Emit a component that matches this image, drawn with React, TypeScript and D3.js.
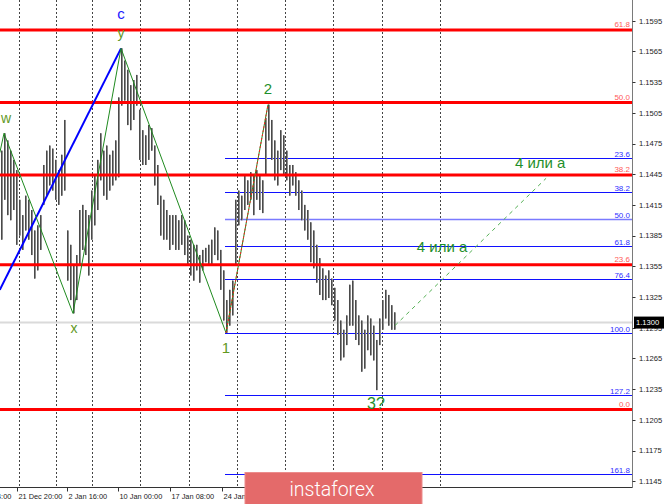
import React from "react";
import * as d3 from "d3";

// bar highs / lows (H4 bars, oldest first)
const HIGHS = [
  1.1468, 1.1485, 1.1478, 1.1468, 1.1459, 1.1449, 1.142, 1.1405, 1.1424, 1.142,
  1.141, 1.139, 1.1395, 1.1405, 1.1454, 1.1468, 1.1473, 1.147, 1.1459, 1.1449,
  1.1464, 1.1498, 1.139, 1.1376, 1.1356, 1.1366, 1.141, 1.1415, 1.141, 1.1405,
  1.1429, 1.1444, 1.1459, 1.1485, 1.1468, 1.1473, 1.1464, 1.1468, 1.1478, 1.152,
  1.1568, 1.1556, 1.1547, 1.1532, 1.1537, 1.1542, 1.1508, 1.1488, 1.1483, 1.1493,
  1.149, 1.1473, 1.1454, 1.1424, 1.142, 1.141, 1.1405, 1.1405, 1.1405, 1.14,
  1.1405, 1.14, 1.1385, 1.1381, 1.1376, 1.1376, 1.1366, 1.1371, 1.1373, 1.1376,
  1.1381, 1.1393, 1.139, 1.1371, 1.1351, 1.1322, 1.1332, 1.1341, 1.142, 1.1429,
  1.1424, 1.1444, 1.1439, 1.1447, 1.1444, 1.1449, 1.1444, 1.1439, 1.15, 1.1513,
  1.1498, 1.1478, 1.1468, 1.1488, 1.1483, 1.1468, 1.1454, 1.1454, 1.1447, 1.1439,
  1.1429, 1.1415, 1.141, 1.1398, 1.139, 1.1376, 1.1363, 1.1353, 1.1346, 1.1351,
  1.1343, 1.1334, 1.1322, 1.1302, 1.1293, 1.1307, 1.1337, 1.1341, 1.1322, 1.1307,
  1.1302, 1.1293, 1.1307, 1.1304, 1.1297, 1.1283, 1.1304, 1.1322, 1.1332, 1.1327,
  1.1317, 1.131,
];
const LOWS = [
  1.1381, 1.142, 1.1405, 1.14, 1.141, 1.1376, 1.1385, 1.1371, 1.139, 1.1381,
  1.1366, 1.1343, 1.1351, 1.1371, 1.1415, 1.1424, 1.1434, 1.1429, 1.142, 1.1415,
  1.1424, 1.1429, 1.1341, 1.1322, 1.1309, 1.1322, 1.1356, 1.1371, 1.1366, 1.1346,
  1.1381, 1.1395, 1.141, 1.1439, 1.1424, 1.142, 1.1429, 1.1434, 1.1439, 1.1442,
  1.1512, 1.1517, 1.1493, 1.1488, 1.1498, 1.1512, 1.1459, 1.1454, 1.1454, 1.1459,
  1.1468, 1.1434, 1.1415, 1.1385, 1.1381, 1.1381, 1.1371, 1.1376, 1.1371, 1.1371,
  1.1376, 1.1366, 1.1356, 1.1346, 1.1341, 1.1351, 1.1339, 1.1351, 1.1359, 1.1356,
  1.1356, 1.1366, 1.1361, 1.1332, 1.1302, 1.129, 1.1297, 1.1307, 1.1356, 1.1395,
  1.14, 1.141, 1.1415, 1.142, 1.1405, 1.142, 1.141, 1.1407, 1.1444, 1.1478,
  1.1459, 1.1439, 1.1434, 1.1449, 1.1444, 1.1439, 1.1424, 1.1434, 1.1424, 1.141,
  1.14, 1.139, 1.1381, 1.1359, 1.1353, 1.1339, 1.1327, 1.1322, 1.1322, 1.1324,
  1.1317, 1.1302, 1.1288, 1.1263, 1.1266, 1.1278, 1.1297, 1.1297, 1.1283, 1.1278,
  1.1252, 1.1255, 1.1273, 1.1268, 1.1263, 1.1234, 1.1278, 1.1293, 1.1304, 1.1297,
  1.1293, 1.1293,
];

const LAST_PRICE = 1.13;

const PRICE_TICKS = [
  1.1595, 1.1565, 1.1535, 1.1505, 1.1475, 1.1445, 1.1415, 1.1385, 1.1355, 1.1325,
  1.1295, 1.1265, 1.1235, 1.1205, 1.1175, 1.1145,
];

// time axis (bar index positions)
const TIME_TICKS = [-11.7, 5.3, 22, 39, 56.3, 73.7];
const TIME_LABELS = ["19 Dec 04:00", "21 Dec 20:00", "2 Jan 16:00", "10 Jan 00:00", "17 Jan 08:00", "24 Jan 16:00"];
const GRID_BARS = [5.9, 18.3, 30.2, 46.2, 62.6, 78.6, 94.7, 110.8, 126.9, 146.2];

// big fibo (red): 0 -> 100 range
const RED_FIB_FROM = 1.1215;
const RED_FIB_TO = 1.1815;
const RED_LEVELS = [0, 23.6, 38.2, 50, 61.8];

// small fibo (blue): wave 2 high -> wave 1 low
const BLUE_FIB_FROM = 1.1513;
const BLUE_FIB_TO = 1.129;
const BLUE_FIB_START = 75;
const BLUE_LEVELS = [23.6, 38.2, 50, 61.8, 76.4, 100, 127.2, 161.8];

// wave zigzag
const ZIGZAG = [
  { i: -0.4, p: 1.1466 },
  { i: 1, p: 1.1485 },
  { i: 24, p: 1.1309 },
  { i: 40, p: 1.1568 },
  { i: 75, p: 1.129 },
  { i: 89, p: 1.1513 },
];
const BLUE_TREND = [
  { i: -0.4, p: 1.1332 },
  { i: 40, p: 1.1568 },
];
const FORECAST = [
  { i: 131.3, p: 1.1297 },
  { i: 181.7, p: 1.1441 },
];

const W = 665;
const H = 504;
const PLOT_R = 632.5;
const PLOT_B = 487.5;

const x = d3.scaleLinear().domain([0, 131]).range([1, 394]);
const y = d3.scaleLinear().domain([1.1595, 1.1145]).range([20.7, 481.2]);

const SMALL_GREEN = "#62991f";
const BIG_GREEN = "#1f8f2c";
const axisFont = "'Liberation Sans', Arial, sans-serif";

export default function App() {
  const line = d3
    .line<{ i: number; p: number }>()
    .x((d) => x(d.i))
    .y((d) => y(d.p));

  const redPrice = (lv: number) => RED_FIB_FROM + ((RED_FIB_TO - RED_FIB_FROM) * lv) / 100;
  const bluePrice = (lv: number) => BLUE_FIB_FROM + ((BLUE_FIB_TO - BLUE_FIB_FROM) * lv) / 100;

  return (
    <svg
      width={W}
      height={H}
      style={{ position: "fixed", left: 0, top: 0, background: "#fff" }}
      fontFamily={axisFont}
    >
      <rect x={0} y={0} width={W} height={H} fill="#fff" />

      {/* vertical grid */}
      {GRID_BARS.map((g, k) => (
        <line
          key={"g" + k}
          x1={Math.round(x(g)) + 0.5}
          x2={Math.round(x(g)) + 0.5}
          y1={0}
          y2={PLOT_B}
          stroke="#444"
          strokeWidth={1}
          strokeDasharray="2,2"
        />
      ))}

      {/* current price line */}
      <line x1={0} x2={PLOT_R} y1={y(LAST_PRICE)} y2={y(LAST_PRICE)} stroke="#dadada" strokeWidth={2} />

      {/* blue fibo */}
      {BLUE_LEVELS.map((lv) => {
        const yy = Math.round(y(bluePrice(lv))) + 0.5;
        return (
          <g key={"b" + lv}>
            <line
              x1={x(BLUE_FIB_START) - 1}
              x2={PLOT_R}
              y1={yy}
              y2={yy}
              stroke={lv === 50 ? "#7a7aff" : "#1010ff"}
              strokeWidth={lv === 50 ? 1.6 : 1.1}
            />
            <text x={630} y={yy - 2} fontSize={8} textAnchor="end" fill="#3030ff">
              {lv.toFixed(1)}
            </text>
          </g>
        );
      })}

      {/* bars */}
      {HIGHS.map((hi, i) => {
        const top = y(hi);
        const bot = y(LOWS[i]);
        const bx = Math.round(x(i));
        return (
          <g key={"bar" + i}>
            <rect x={bx} y={top} width={2} height={Math.max(1, bot - top)} fill="#8c8c8c" />
            <line x1={bx + 0.5} x2={bx + 0.5} y1={top} y2={bot} stroke="#4a4a4a" strokeWidth={1} />
          </g>
        );
      })}

      {/* red fibo */}
      {RED_LEVELS.map((lv) => {
        const yy = y(redPrice(lv));
        return (
          <g key={"r" + lv}>
            <line x1={0} x2={PLOT_R} y1={yy} y2={yy} stroke="#ff0000" strokeWidth={3} />
            <text x={630} y={yy - 3} fontSize={8} textAnchor="end" fill="#ff5a5a">
              {lv.toFixed(1)}
            </text>
          </g>
        );
      })}

      {/* wave lines */}
      <path d={line(BLUE_TREND) ?? ""} fill="none" stroke="#0000ff" strokeWidth={2} />
      <path d={line(ZIGZAG) ?? ""} fill="none" stroke="#1f8a1f" strokeWidth={1} />
      <path
        d={line(ZIGZAG.slice(4)) ?? ""}
        fill="none"
        stroke="#ff2020"
        strokeWidth={1}
        strokeDasharray="2,2"
      />
      <path
        d={line(FORECAST) ?? ""}
        fill="none"
        stroke="#55b055"
        strokeWidth={1}
        strokeDasharray="4,4"
      />

      {/* wave labels */}
      <text x={x(40)} y={y(1.1568) - 29} fontSize={15} textAnchor="middle" fill="#1a1aff">c</text>
      <text x={x(40)} y={y(1.1568) - 10} fontSize={14} textAnchor="middle" fill={SMALL_GREEN}>y</text>
      <text x={x(1) + 2} y={y(1.1485) - 10} fontSize={14} textAnchor="middle" fill={SMALL_GREEN}>w</text>
      <text x={x(24) + 1} y={y(1.1309) + 20} fontSize={14} textAnchor="middle" fill={SMALL_GREEN}>x</text>
      <text x={x(75)} y={y(1.129) + 20} fontSize={15} textAnchor="middle" fill={SMALL_GREEN}>1</text>
      <text x={x(89)} y={y(1.1513) - 11} fontSize={15} textAnchor="middle" fill={BIG_GREEN}>2</text>
      <text x={x(125)} y={y(1.1234) + 19} fontSize={16} textAnchor="middle" fill={BIG_GREEN}>3?</text>
      <text x={x(171.3)} y={y(1.1444) - 7} fontSize={15} fill={BIG_GREEN}>4 или а</text>
      <text x={x(138.6)} y={y(1.1356) - 13} fontSize={15} fill={BIG_GREEN}>4 или а</text>

      {/* axes */}
      <line x1={PLOT_R} x2={PLOT_R} y1={0} y2={PLOT_B} stroke="#7a7a7a" strokeWidth={1} />
      <line x1={0} x2={PLOT_R} y1={PLOT_B} y2={PLOT_B} stroke="#333" strokeWidth={1} />
      {PRICE_TICKS.map((p) => (
        <g key={"pt" + p}>
          <line x1={PLOT_R} x2={PLOT_R + 3} y1={Math.round(y(p)) + 0.5} y2={Math.round(y(p)) + 0.5} stroke="#333" />
          <text x={639} y={y(p) + 2.8} fontSize={7.6} fill="#222">
            {p.toFixed(4)}
          </text>
        </g>
      ))}
      <rect x={634} y={y(LAST_PRICE) - 6} width={30} height={12} fill="#000" />
      <text x={636} y={y(LAST_PRICE) + 2.8} fontSize={7.6} fill="#fff">
        {LAST_PRICE.toFixed(4)}
      </text>

      {TIME_TICKS.map((t, k) => (
        <g key={"tt" + k}>
          <line x1={Math.round(x(t)) + 0.5} x2={Math.round(x(t)) + 0.5} y1={PLOT_B} y2={PLOT_B + 4} stroke="#333" />
          <text x={x(t) + 1.5} y={499} fontSize={7.4} fill="#222">
            {TIME_LABELS[k]}
          </text>
        </g>
      ))}

      {/* watermark */}
      <rect x={245} y={472.5} width={177} height={32} fill="#e46a6a" stroke="#ec8c8c" strokeWidth={1} />
      <text
        x={332}
        y={496}
        fontSize={19.5}
        fontFamily="Roboto, 'Open Sans', sans-serif"
        fontWeight={300}
        textAnchor="middle"
        fill="#fff"
      >
        instaforex
      </text>
    </svg>
  );
}
